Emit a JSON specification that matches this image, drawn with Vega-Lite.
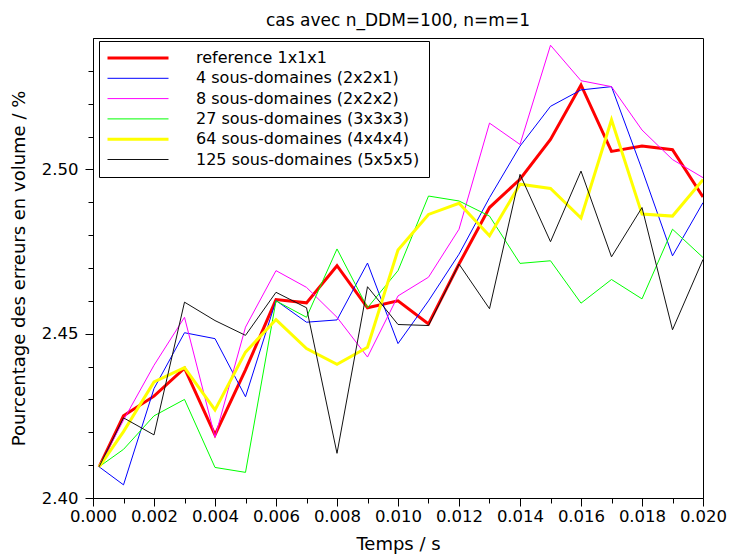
{
  "$schema": "https://vega.github.io/schema/vega-lite/v6.json",
  "autosize": {"type": "none"},
  "width": 610,
  "height": 460,
  "padding": {"left": 93, "top": 38, "right": 27, "bottom": 56},
  "background": "white",
  "title": {"text": "cas avec n_DDM=100, n=m=1", "font": "DejaVu Sans", "fontSize": 17, "fontWeight": "normal", "color": "black", "offset": 8, "anchor": "middle"},
  "config": {
    "view": {"stroke": "black", "strokeWidth": 1},
    "axis": {"labelFont": "DejaVu Sans", "titleFont": "DejaVu Sans", "labelColor": "black", "titleColor": "black", "domainColor": "black", "tickColor": "black", "grid": false, "titleFontWeight": "normal", "labelFontSize": 16.5, "titleFontSize": 18},
    "legend": {"labelFont": "DejaVu Sans"}
  },
  "data": {"values": [
    {"t": 0.0002, "serie": "reference 1x1x1", "v": 2.4095},
    {"t": 0.001, "serie": "reference 1x1x1", "v": 2.425},
    {"t": 0.002, "serie": "reference 1x1x1", "v": 2.431},
    {"t": 0.003, "serie": "reference 1x1x1", "v": 2.4395},
    {"t": 0.004, "serie": "reference 1x1x1", "v": 2.4192},
    {"t": 0.005, "serie": "reference 1x1x1", "v": 2.439},
    {"t": 0.006, "serie": "reference 1x1x1", "v": 2.4604},
    {"t": 0.007, "serie": "reference 1x1x1", "v": 2.4594},
    {"t": 0.008, "serie": "reference 1x1x1", "v": 2.4707},
    {"t": 0.009, "serie": "reference 1x1x1", "v": 2.4579},
    {"t": 0.010, "serie": "reference 1x1x1", "v": 2.460},
    {"t": 0.011, "serie": "reference 1x1x1", "v": 2.453},
    {"t": 0.012, "serie": "reference 1x1x1", "v": 2.4712},
    {"t": 0.013, "serie": "reference 1x1x1", "v": 2.4884},
    {"t": 0.014, "serie": "reference 1x1x1", "v": 2.497},
    {"t": 0.015, "serie": "reference 1x1x1", "v": 2.5091},
    {"t": 0.016, "serie": "reference 1x1x1", "v": 2.5257},
    {"t": 0.017, "serie": "reference 1x1x1", "v": 2.5055},
    {"t": 0.018, "serie": "reference 1x1x1", "v": 2.5071},
    {"t": 0.019, "serie": "reference 1x1x1", "v": 2.506},
    {"t": 0.020, "serie": "reference 1x1x1", "v": 2.4916},

    {"t": 0.0002, "serie": "4 sous-domaines (2x2x1)", "v": 2.4095},
    {"t": 0.001, "serie": "4 sous-domaines (2x2x1)", "v": 2.404},
    {"t": 0.002, "serie": "4 sous-domaines (2x2x1)", "v": 2.4333},
    {"t": 0.003, "serie": "4 sous-domaines (2x2x1)", "v": 2.4503},
    {"t": 0.004, "serie": "4 sous-domaines (2x2x1)", "v": 2.4485},
    {"t": 0.005, "serie": "4 sous-domaines (2x2x1)", "v": 2.4308},
    {"t": 0.006, "serie": "4 sous-domaines (2x2x1)", "v": 2.4601},
    {"t": 0.007, "serie": "4 sous-domaines (2x2x1)", "v": 2.4535},
    {"t": 0.008, "serie": "4 sous-domaines (2x2x1)", "v": 2.4542},
    {"t": 0.009, "serie": "4 sous-domaines (2x2x1)", "v": 2.4715},
    {"t": 0.010, "serie": "4 sous-domaines (2x2x1)", "v": 2.447},
    {"t": 0.011, "serie": "4 sous-domaines (2x2x1)", "v": 2.460},
    {"t": 0.012, "serie": "4 sous-domaines (2x2x1)", "v": 2.4742},
    {"t": 0.013, "serie": "4 sous-domaines (2x2x1)", "v": 2.4914},
    {"t": 0.014, "serie": "4 sous-domaines (2x2x1)", "v": 2.5071},
    {"t": 0.015, "serie": "4 sous-domaines (2x2x1)", "v": 2.5192},
    {"t": 0.016, "serie": "4 sous-domaines (2x2x1)", "v": 2.5242},
    {"t": 0.017, "serie": "4 sous-domaines (2x2x1)", "v": 2.5252},
    {"t": 0.018, "serie": "4 sous-domaines (2x2x1)", "v": 2.500},
    {"t": 0.019, "serie": "4 sous-domaines (2x2x1)", "v": 2.4737},
    {"t": 0.020, "serie": "4 sous-domaines (2x2x1)", "v": 2.4899},

    {"t": 0.0002, "serie": "8 sous-domaines (2x2x2)", "v": 2.4095},
    {"t": 0.001, "serie": "8 sous-domaines (2x2x2)", "v": 2.4237},
    {"t": 0.002, "serie": "8 sous-domaines (2x2x2)", "v": 2.4404},
    {"t": 0.003, "serie": "8 sous-domaines (2x2x2)", "v": 2.455},
    {"t": 0.004, "serie": "8 sous-domaines (2x2x2)", "v": 2.4185},
    {"t": 0.005, "serie": "8 sous-domaines (2x2x2)", "v": 2.452},
    {"t": 0.006, "serie": "8 sous-domaines (2x2x2)", "v": 2.4692},
    {"t": 0.007, "serie": "8 sous-domaines (2x2x2)", "v": 2.4641},
    {"t": 0.008, "serie": "8 sous-domaines (2x2x2)", "v": 2.455},
    {"t": 0.009, "serie": "8 sous-domaines (2x2x2)", "v": 2.4429},
    {"t": 0.010, "serie": "8 sous-domaines (2x2x2)", "v": 2.4615},
    {"t": 0.011, "serie": "8 sous-domaines (2x2x2)", "v": 2.4672},
    {"t": 0.012, "serie": "8 sous-domaines (2x2x2)", "v": 2.4818},
    {"t": 0.013, "serie": "8 sous-domaines (2x2x2)", "v": 2.5141},
    {"t": 0.014, "serie": "8 sous-domaines (2x2x2)", "v": 2.5076},
    {"t": 0.015, "serie": "8 sous-domaines (2x2x2)", "v": 2.5378},
    {"t": 0.016, "serie": "8 sous-domaines (2x2x2)", "v": 2.527},
    {"t": 0.017, "serie": "8 sous-domaines (2x2x2)", "v": 2.5252},
    {"t": 0.018, "serie": "8 sous-domaines (2x2x2)", "v": 2.512},
    {"t": 0.019, "serie": "8 sous-domaines (2x2x2)", "v": 2.503},
    {"t": 0.020, "serie": "8 sous-domaines (2x2x2)", "v": 2.4975},

    {"t": 0.0002, "serie": "27 sous-domaines (3x3x3)", "v": 2.4095},
    {"t": 0.001, "serie": "27 sous-domaines (3x3x3)", "v": 2.4148},
    {"t": 0.002, "serie": "27 sous-domaines (3x3x3)", "v": 2.425},
    {"t": 0.003, "serie": "27 sous-domaines (3x3x3)", "v": 2.430},
    {"t": 0.004, "serie": "27 sous-domaines (3x3x3)", "v": 2.4093},
    {"t": 0.005, "serie": "27 sous-domaines (3x3x3)", "v": 2.4078},
    {"t": 0.006, "serie": "27 sous-domaines (3x3x3)", "v": 2.460},
    {"t": 0.007, "serie": "27 sous-domaines (3x3x3)", "v": 2.455},
    {"t": 0.008, "serie": "27 sous-domaines (3x3x3)", "v": 2.4758},
    {"t": 0.009, "serie": "27 sous-domaines (3x3x3)", "v": 2.4579},
    {"t": 0.010, "serie": "27 sous-domaines (3x3x3)", "v": 2.4692},
    {"t": 0.011, "serie": "27 sous-domaines (3x3x3)", "v": 2.4919},
    {"t": 0.012, "serie": "27 sous-domaines (3x3x3)", "v": 2.4904},
    {"t": 0.013, "serie": "27 sous-domaines (3x3x3)", "v": 2.4858},
    {"t": 0.014, "serie": "27 sous-domaines (3x3x3)", "v": 2.4714},
    {"t": 0.015, "serie": "27 sous-domaines (3x3x3)", "v": 2.4722},
    {"t": 0.016, "serie": "27 sous-domaines (3x3x3)", "v": 2.4593},
    {"t": 0.017, "serie": "27 sous-domaines (3x3x3)", "v": 2.4665},
    {"t": 0.018, "serie": "27 sous-domaines (3x3x3)", "v": 2.4606},
    {"t": 0.019, "serie": "27 sous-domaines (3x3x3)", "v": 2.4818},
    {"t": 0.020, "serie": "27 sous-domaines (3x3x3)", "v": 2.4732},

    {"t": 0.0002, "serie": "64 sous-domaines (4x4x4)", "v": 2.4095},
    {"t": 0.001, "serie": "64 sous-domaines (4x4x4)", "v": 2.4202},
    {"t": 0.002, "serie": "64 sous-domaines (4x4x4)", "v": 2.4353},
    {"t": 0.003, "serie": "64 sous-domaines (4x4x4)", "v": 2.4397},
    {"t": 0.004, "serie": "64 sous-domaines (4x4x4)", "v": 2.4268},
    {"t": 0.005, "serie": "64 sous-domaines (4x4x4)", "v": 2.4444},
    {"t": 0.006, "serie": "64 sous-domaines (4x4x4)", "v": 2.4543},
    {"t": 0.007, "serie": "64 sous-domaines (4x4x4)", "v": 2.4455},
    {"t": 0.008, "serie": "64 sous-domaines (4x4x4)", "v": 2.4407},
    {"t": 0.009, "serie": "64 sous-domaines (4x4x4)", "v": 2.4459},
    {"t": 0.010, "serie": "64 sous-domaines (4x4x4)", "v": 2.4755},
    {"t": 0.011, "serie": "64 sous-domaines (4x4x4)", "v": 2.4863},
    {"t": 0.012, "serie": "64 sous-domaines (4x4x4)", "v": 2.4897},
    {"t": 0.013, "serie": "64 sous-domaines (4x4x4)", "v": 2.4798},
    {"t": 0.014, "serie": "64 sous-domaines (4x4x4)", "v": 2.4955},
    {"t": 0.015, "serie": "64 sous-domaines (4x4x4)", "v": 2.4942},
    {"t": 0.016, "serie": "64 sous-domaines (4x4x4)", "v": 2.4852},
    {"t": 0.017, "serie": "64 sous-domaines (4x4x4)", "v": 2.5151},
    {"t": 0.018, "serie": "64 sous-domaines (4x4x4)", "v": 2.4864},
    {"t": 0.019, "serie": "64 sous-domaines (4x4x4)", "v": 2.4858},
    {"t": 0.020, "serie": "64 sous-domaines (4x4x4)", "v": 2.4969},

    {"t": 0.0002, "serie": "125 sous-domaines (5x5x5)", "v": 2.4095},
    {"t": 0.001, "serie": "125 sous-domaines (5x5x5)", "v": 2.4244},
    {"t": 0.002, "serie": "125 sous-domaines (5x5x5)", "v": 2.4192},
    {"t": 0.003, "serie": "125 sous-domaines (5x5x5)", "v": 2.4596},
    {"t": 0.004, "serie": "125 sous-domaines (5x5x5)", "v": 2.454},
    {"t": 0.005, "serie": "125 sous-domaines (5x5x5)", "v": 2.4495},
    {"t": 0.006, "serie": "125 sous-domaines (5x5x5)", "v": 2.4626},
    {"t": 0.007, "serie": "125 sous-domaines (5x5x5)", "v": 2.4579},
    {"t": 0.008, "serie": "125 sous-domaines (5x5x5)", "v": 2.4136},
    {"t": 0.009, "serie": "125 sous-domaines (5x5x5)", "v": 2.4643},
    {"t": 0.010, "serie": "125 sous-domaines (5x5x5)", "v": 2.4528},
    {"t": 0.011, "serie": "125 sous-domaines (5x5x5)", "v": 2.4525},
    {"t": 0.012, "serie": "125 sous-domaines (5x5x5)", "v": 2.4712},
    {"t": 0.013, "serie": "125 sous-domaines (5x5x5)", "v": 2.4576},
    {"t": 0.014, "serie": "125 sous-domaines (5x5x5)", "v": 2.4985},
    {"t": 0.015, "serie": "125 sous-domaines (5x5x5)", "v": 2.478},
    {"t": 0.016, "serie": "125 sous-domaines (5x5x5)", "v": 2.4995},
    {"t": 0.017, "serie": "125 sous-domaines (5x5x5)", "v": 2.4734},
    {"t": 0.018, "serie": "125 sous-domaines (5x5x5)", "v": 2.4884},
    {"t": 0.019, "serie": "125 sous-domaines (5x5x5)", "v": 2.4512},
    {"t": 0.020, "serie": "125 sous-domaines (5x5x5)", "v": 2.4726}
  ]},
  "mark": {"type": "line", "clip": true},
  "encoding": {
    "x": {
      "field": "t", "type": "quantitative",
      "scale": {"domain": [0, 0.02], "nice": false, "zero": false},
      "axis": {
        "title": "Temps / s",
        "values": [0, 0.001, 0.002, 0.003, 0.004, 0.005, 0.006, 0.007, 0.008, 0.009, 0.010, 0.011, 0.012, 0.013, 0.014, 0.015, 0.016, 0.017, 0.018, 0.019, 0.020],
        "labelExpr": "round(datum.value*1000) % 2 === 0 ? format(datum.value, '.3f') : ''",
        "tickSize": {"condition": {"test": "round(datum.value*1000) % 2 === 0", "value": 8}, "value": 5},
        "labelPadding": 2,
        "titlePadding": 11,
        "labelOverlap": false,
        "labelFlush": false
      }
    },
    "y": {
      "field": "v", "type": "quantitative",
      "scale": {"domain": [2.40, 2.54], "nice": false, "zero": false},
      "axis": {
        "title": "Pourcentage des erreurs en volume / %",
        "values": [2.40, 2.41, 2.42, 2.43, 2.44, 2.45, 2.46, 2.47, 2.48, 2.49, 2.50, 2.51, 2.52, 2.53],
        "labelExpr": "round(datum.value*100) % 5 === 0 ? format(datum.value, '.2f') : ''",
        "tickSize": {"condition": {"test": "round(datum.value*100) % 5 === 0", "value": 8}, "value": 5},
        "labelPadding": 7,
        "titlePadding": 13,
        "labelOverlap": false,
        "labelFlush": false
      }
    },
    "color": {
      "field": "serie", "type": "nominal",
      "scale": {
        "domain": ["reference 1x1x1", "4 sous-domaines (2x2x1)", "8 sous-domaines (2x2x2)", "27 sous-domaines (3x3x3)", "64 sous-domaines (4x4x4)", "125 sous-domaines (5x5x5)"],
        "range": ["#ff0000", "#0000ff", "#ff00ff", "#00ff00", "#ffff00", "#111111"]
      },
      "legend": {
        "title": null,
        "orient": "none",
        "legendX": 6,
        "legendY": 3,
        "symbolType": "stroke",
        "symbolSize": 3721,
        "symbolStrokeWidth": 1,
        "symbolOffset": 22,
        "labelFontSize": 16,
        "labelColor": "black",
        "labelOffset": 50,
        "rowPadding": 4.3,
        "padding": 9,
        "strokeColor": "black",
        "fillColor": "white",
        "labelLimit": 400,
        "encode": {
          "symbols": {"update": {"strokeWidth": {"signal": "datum.value === 'reference 1x1x1' || datum.value === '64 sous-domaines (4x4x4)' ? 3 : 1"}}}
        }
      }
    },
    "strokeWidth": {
      "condition": {"test": "datum.serie === 'reference 1x1x1' || datum.serie === '64 sous-domaines (4x4x4)'", "value": 3},
      "value": 1
    }
  }
}
